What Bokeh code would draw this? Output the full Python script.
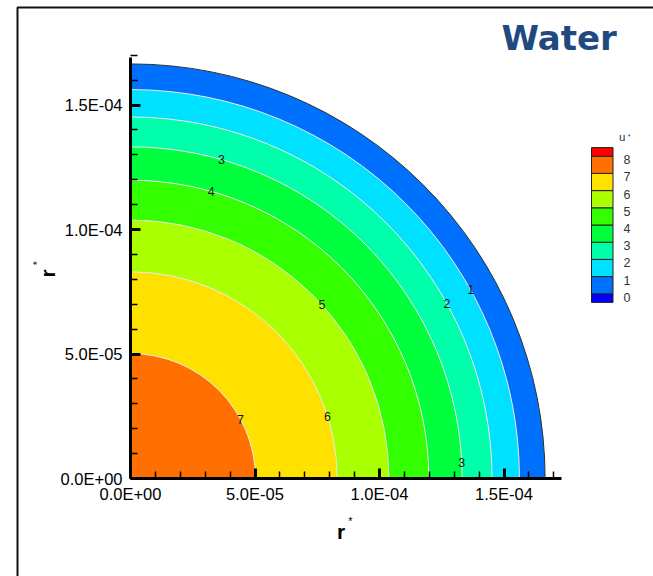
import math

from bokeh.core.properties import value
from bokeh.embed import file_html
from bokeh.models import CustomJSTickFormatter, FixedTicker, Range1d
from bokeh.plotting import figure
from bokeh.resources import INLINE

# ---- data -----------------------------------------------------------------
# u* contour levels shown in the legend
levels = [0, 1, 2, 3, 4, 5, 6, 7, 8]
# radius (r*) at which each contour level is crossed
contour_levels = [7, 6, 5, 4, 3, 2, 1]
contour_radii = [5.02e-5, 8.30e-5, 1.038e-4, 1.198e-4, 1.332e-4, 1.452e-4, 1.562e-4]
outer_radius = 1.665e-4

# fill colour of each level band: 0-1, 1-2, ..., 7-8
band_colors = ["#0070FF", "#00E1FF", "#00FFAA", "#00FF3C", "#33FF00", "#AAFF00", "#FFE100", "#FF7000"]
under_color = "#0000FF"
over_color = "#FF0000"

# inline contour labels: level and polar angle (degrees) of each label
label_levels = [3, 4, 5, 6, 7, 2, 1, 3]
label_angles = [74.1, 74.3, 42.2, 17.6, 28.4, 28.9, 29.0, 2.8]

major_ticks = [0.0, 5e-5, 1e-4, 1.5e-4]
minor_ticks = [1e-5, 2e-5, 3e-5, 4e-5, 6e-5, 7e-5, 8e-5, 9e-5, 1.1e-4, 1.2e-4,
               1.3e-4, 1.4e-4, 1.6e-4, 1.7e-4]
x_axis_end = 1.73e-4
y_axis_end = 1.69e-4

# ---- layout ---------------------------------------------------------------
W, H = 653, 576
ORIGIN_X, ORIGIN_Y = 130, 478          # canvas position of r* = 0
PX_PER_UNIT = 124.5 / 5e-5             # same scale on both axes

p = figure(
    width=W, height=H, title=None, toolbar_location=None, output_backend="svg",
    x_range=Range1d(-ORIGIN_X / PX_PER_UNIT, (W - ORIGIN_X) / PX_PER_UNIT),
    y_range=Range1d(-(H - ORIGIN_Y) / PX_PER_UNIT, ORIGIN_Y / PX_PER_UNIT),
    min_border=0,
)
p.outline_line_color = None
p.grid.visible = False
p.background_fill_color = "white"
p.border_fill_color = "white"

# canvas-pixel coordinate systems for page decorations:
# "py" counts pixels down from the top, "pyu" counts pixels up from the bottom
p.extra_x_ranges = {"px": Range1d(0, W)}
p.extra_y_ranges = {"py": Range1d(H, 0), "pyu": Range1d(0, H)}
PX = dict(x_range_name="px", y_range_name="py")

fmt = CustomJSTickFormatter(code="""
    const s = tick.toExponential(1).toUpperCase();
    const parts = s.split("E");
    const e = parts[1];
    const sign = e[0] === "-" ? "-" : "+";
    const digits = e.replace("+", "").replace("-", "").padStart(2, "0");
    return parts[0] + "E" + sign + digits;
""")

for ax, end in ((p.xaxis[0], x_axis_end), (p.yaxis[0], y_axis_end)):
    ax.fixed_location = 0
    ax.bounds = (0, end)
    ax.ticker = FixedTicker(ticks=major_ticks, minor_ticks=minor_ticks)
    ax.formatter = fmt
    ax.axis_line_width = 3
    ax.axis_line_color = "black"
    ax.major_tick_in = 10
    ax.major_tick_out = 0
    ax.major_tick_line_width = 3
    ax.minor_tick_in = 7
    ax.minor_tick_out = 0
    ax.minor_tick_line_width = 1.5
    ax.major_label_text_font = "Liberation Sans"
    ax.major_label_text_font_size = "16.5px"
    ax.major_label_text_color = "black"
p.xaxis.major_label_standoff = 6
p.yaxis.major_label_standoff = 8

# ---- filled contour bands ---------------------------------------------------
inner = [0.0] + contour_radii
outer = contour_radii + [outer_radius]
colors = [band_colors[lv] for lv in contour_levels] + [band_colors[0]]
p.annular_wedge(x=0, y=0, inner_radius=inner, outer_radius=outer,
                start_angle=0, end_angle=math.pi / 2, fill_color=colors,
                line_color=None, level="underlay")

# contour lines and domain boundary
p.arc(x=0, y=0, radius=contour_radii, start_angle=0, end_angle=math.pi / 2,
      line_color="#E8E8E8", line_width=1, level="underlay")
p.arc(x=0, y=0, radius=outer_radius, start_angle=0, end_angle=math.pi / 2,
      line_color="#303030", line_width=1, level="underlay")

# inline contour labels
rad_of = dict(zip(contour_levels, contour_radii))
lx = [rad_of[lv] * math.cos(math.radians(a)) for lv, a in zip(label_levels, label_angles)]
ly = [rad_of[lv] * math.sin(math.radians(a)) for lv, a in zip(label_levels, label_angles)]
p.text(x=lx, y=ly, text=[str(lv) for lv in label_levels], text_align="center",
       text_baseline="middle", text_font=value("Liberation Sans"),
       text_font_size="12.5px", text_color="#1a1a1a")

# ---- legend -----------------------------------------------------------------
LEG_L, LEG_R = 591, 612.5
LEG_TOP_LEVEL_Y = 155.7
STEP = 17.2


def leg_y(v):
    return LEG_TOP_LEVEL_Y + (levels[-1] - v) * STEP


tops = [leg_y(levels[0])] + [leg_y(levels[i + 1]) for i in range(len(levels) - 1)] \
    + [leg_y(levels[-1]) - STEP / 2]
bottoms = [leg_y(levels[0]) + STEP / 2] + [leg_y(levels[i]) for i in range(len(levels) - 1)] \
    + [leg_y(levels[-1])]
leg_colors = [under_color] + band_colors + [over_color]
p.quad(left=LEG_L, right=LEG_R, top=tops, bottom=bottoms, fill_color=leg_colors,
       line_color="#202020", line_width=1, **PX)
p.text(x=623, y=[leg_y(v) + 3.5 for v in levels], text=[str(v) for v in levels],
       text_align="left", text_baseline="middle", text_font=value("Liberation Sans"),
       text_font_size="12.5px", text_color="#333333", **PX)


def px_text(x, y, text, size, font="Liberation Sans", color="black", **kw):
    # y is the bottom of the text box, in canvas pixels from the top
    p.text(x=[x], y=[y], text=[text], text_font=value(font), text_font_size=size,
           text_color=color, text_baseline="alphabetic", **kw, **PX)


def px_text_up(x, y, text, size, **kw):
    # text reading bottom-to-top, positioned in canvas pixels from the top
    p.text(x=[x], y=[H - y], text=[text], text_font=value("Liberation Sans"),
           text_font_size=size, text_color="black", angle=math.pi / 2,
           text_align="center", text_baseline="alphabetic",
           x_range_name="px", y_range_name="pyu", **kw)


px_text(618.5, 136, "u", "11.5px", color="#333333")
px_text(628.7, 136, "*", "7px", color="#333333", text_align="center")

# ---- axis titles ------------------------------------------------------------
px_text(340.7, 530.5, "r", "21px", text_align="center", text_font_style="bold")
px_text(350, 520.7, "*", "11px", text_align="center")
px_text_up(47, 273, "r", "21px", text_font_style="bold")
px_text_up(36, 262.5, "*", "11px")

# ---- heading ----------------------------------------------------------------
px_text(558.7, 37, "Water", "34px", font="DejaVu Sans", color="#1F4A7F",
        text_align="center", text_font_style="bold")

# page frame lines
p.line(x=[17, 17, W + 5], y=[H + 5, 7, 7], line_color="#111111", line_width=2, **PX)

open("out.html", "w").write(file_html(p, INLINE))
